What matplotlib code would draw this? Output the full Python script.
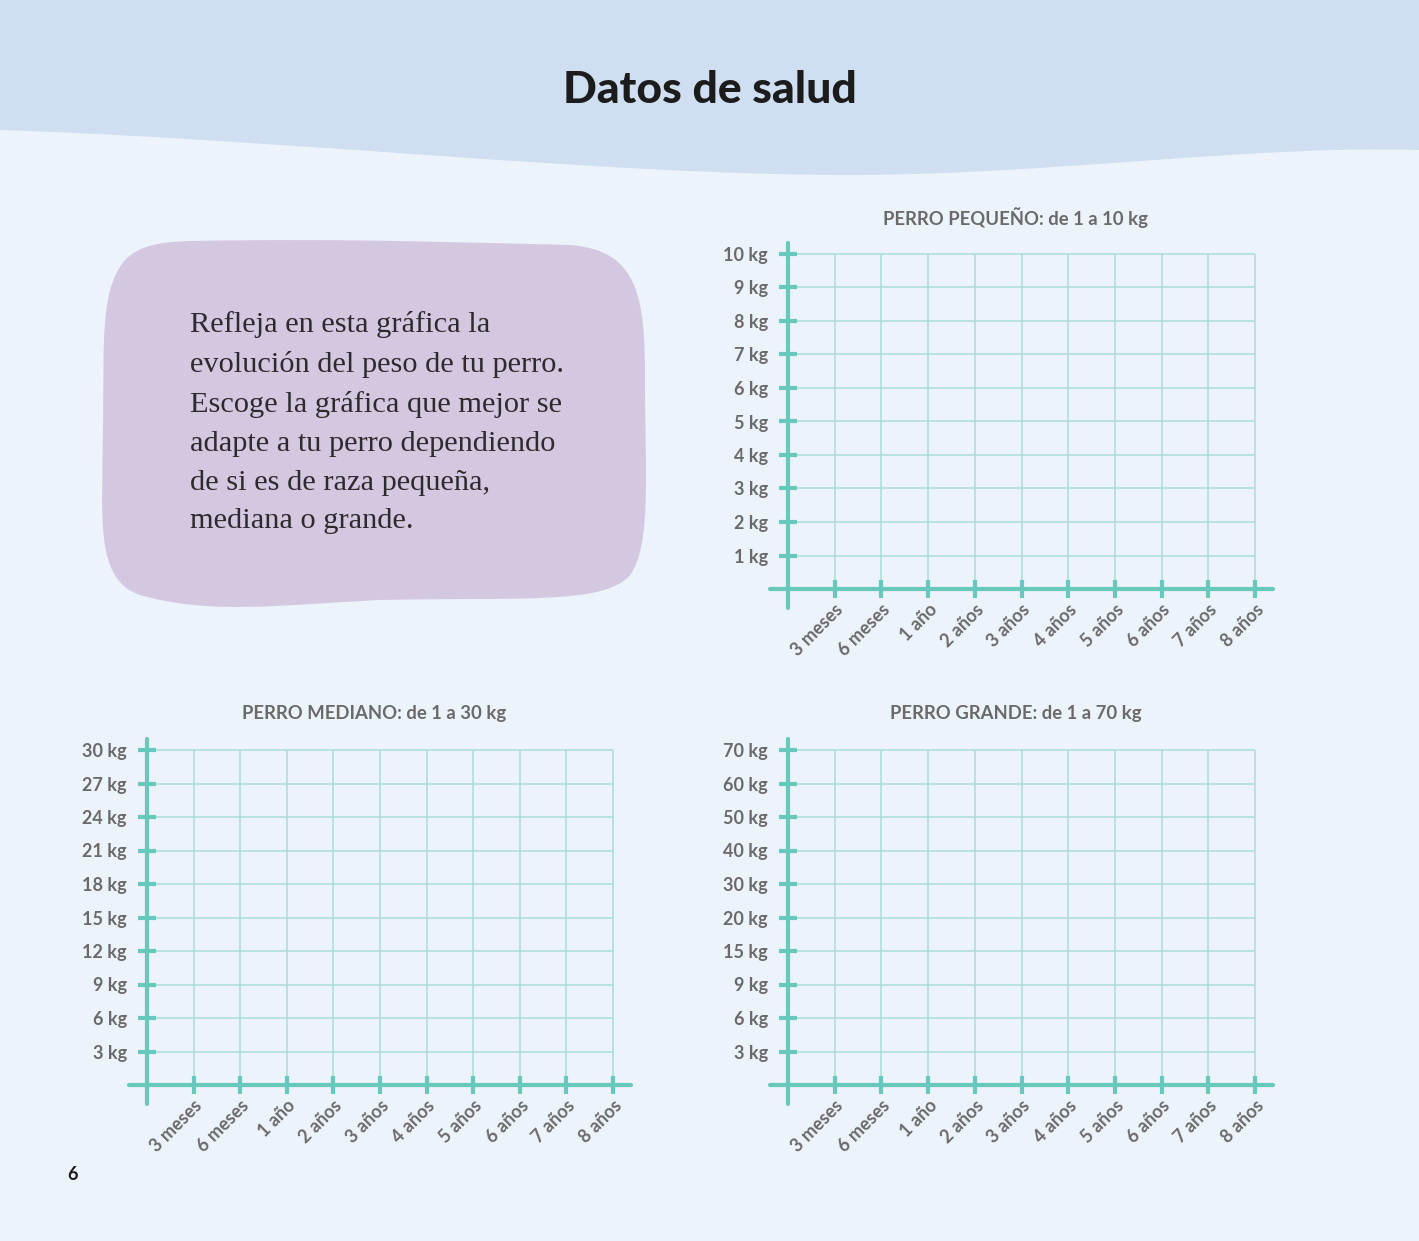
import numpy as np
import matplotlib
matplotlib.use('Agg')
from matplotlib import pyplot as plt
from matplotlib.path import Path
from matplotlib.patches import PathPatch

# data
x_labels = ['3 meses', '6 meses', '1 año', '2 años', '3 años',
            '4 años', '5 años', '6 años', '7 años', '8 años']
small_kg = [1, 2, 3, 4, 5, 6, 7, 8, 9, 10]
medium_kg = [3, 6, 9, 12, 15, 18, 21, 24, 27, 30]
large_kg = [3, 6, 9, 15, 20, 30, 40, 50, 60, 70]
titles = ['PERRO PEQUEÑO: de 1 a 10 kg',
          'PERRO MEDIANO: de 1 a 30 kg',
          'PERRO GRANDE: de 1 a 70 kg']

W, H = 1419, 1241
page = '#edf3fb'
band = '#cfdff1'
teal = '#66c9bb'
grid_c = '#a9ded6'
gray = '#6a6a6a'

fig = plt.figure(figsize=(W / 100, H / 100), dpi=100)
fig.patch.set_facecolor(page)

bg = fig.add_axes([0, 0, 1, 1], zorder=-5)
bg.set_xlim(0, W)
bg.set_ylim(H, 0)
bg.axis('off')

# wavy top band
verts = [(0, 0), (W, 0), (W, 150),
         (1250, 145), (1050, 175), (850, 175),
         (600, 175), (300, 140), (0, 130),
         (0, 0)]
codes = [Path.MOVETO, Path.LINETO, Path.LINETO,
         Path.CURVE4, Path.CURVE4, Path.CURVE4,
         Path.CURVE4, Path.CURVE4, Path.CURVE4,
         Path.CLOSEPOLY]
bg.add_patch(PathPatch(Path(verts, codes), fc=band, ec='none'))

# purple blob
bv = [(190, 241),
      (350, 238), (480, 243), (570, 245),
      (640, 250), (645, 300), (645, 380),
      (645, 470), (652, 545), (630, 575),
      (605, 605), (520, 597), (380, 600),
      (280, 605), (210, 615), (140, 595),
      (95, 580), (102, 520), (103, 430),
      (104, 340), (100, 290), (125, 260),
      (140, 245), (160, 242), (190, 241),
      (190, 241)]
bc = [Path.MOVETO] + [Path.CURVE4] * 24 + [Path.CLOSEPOLY]
bg.add_patch(PathPatch(Path(bv, bc), fc='#d4c8e1', ec='none'))

bg.text(710, 90, 'Datos de salud', ha='center', va='center',
        fontsize=32, fontweight='black', family='Lato', color='#1c1c1c')

blurb = ('Refleja en esta gráfica la\n'
         'evolución del peso de tu perro.\n'
         'Escoge la gráfica que mejor se\n'
         'adapte a tu perro dependiendo\n'
         'de si es de raza pequeña,\n'
         'mediana o grande.')
bg.text(190, 311, blurb, ha='left', va='top', fontsize=21.9,
        family='Liberation Serif', color='#2e2a2e', linespacing=1.63)

bg.text(73, 1175, '6', ha='center', va='center', fontsize=13,
        fontweight='bold', family='Lato', color='#1c1c1c')


def weight_chart(x0, y0, y_vals, title, dx=46.7, dy=33.5):
    xmin, xmax = -0.5, 10.6
    ymin, ymax = -0.7, 10.45
    left = (x0 + dx * xmin) / W
    width = dx * (xmax - xmin) / W
    bottom = (H - (y0 - dy * ymin)) / H
    height = dy * (ymax - ymin) / H
    ax = fig.add_axes([left, bottom, width, height])
    ax.patch.set_alpha(0)
    ax.set_xlim(xmin, xmax)
    ax.set_ylim(ymin, ymax)
    pos = np.arange(1, len(x_labels) + 1)
    ax.vlines(pos, 0, len(y_vals), color=grid_c, lw=1.1, zorder=1)
    ax.hlines(np.arange(1, len(y_vals) + 1), 0, len(x_labels),
              color=grid_c, lw=1.1, zorder=1)
    for s in ['top', 'right']:
        ax.spines[s].set_visible(False)
    ax.spines['left'].set_position(('data', 0))
    ax.spines['bottom'].set_position(('data', 0))
    ax.spines['left'].set_bounds(-0.57, 10.33)
    ax.spines['bottom'].set_bounds(-0.38, 10.38)
    for s in ['left', 'bottom']:
        ax.spines[s].set_color(teal)
        ax.spines[s].set_linewidth(3)
        ax.spines[s].set_capstyle('round')
        ax.spines[s].set_zorder(3)
    ax.set_xticks(pos)
    ax.set_xticklabels(x_labels, rotation=45, ha='right', va='top',
                       rotation_mode='anchor')
    ax.set_yticks(np.arange(1, len(y_vals) + 1))
    ax.set_yticklabels([f'{v} kg' for v in y_vals])
    ax.tick_params(direction='inout', length=13, width=3, color=teal,
                   labelcolor=gray, labelsize=13)
    ax.tick_params(axis='x', pad=2)
    ax.tick_params(axis='y', pad=8)
    for t in ax.get_xticklabels() + ax.get_yticklabels():
        t.set_fontweight('bold')
        t.set_family('Lato')
    ax.text(4.87, 11.1, title, ha='center', va='center', fontsize=13.3,
            fontweight='bold', family='Lato', color=gray, clip_on=False)
    return ax


weight_chart(788, 589, small_kg, titles[0])
weight_chart(147, 1085, medium_kg, titles[1], dx=46.6)
weight_chart(788, 1085, large_kg, titles[2])

fig.savefig('out.png', dpi=100, facecolor=page)
